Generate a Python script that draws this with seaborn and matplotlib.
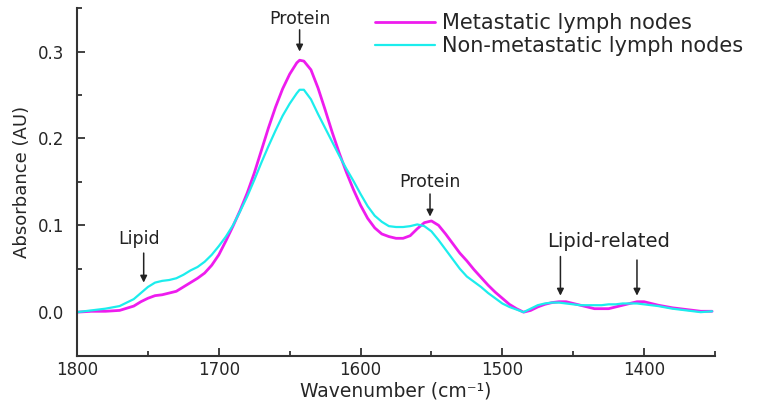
import numpy as np
import pandas as pd
import matplotlib
matplotlib.use("Agg")
import matplotlib.pyplot as plt
from matplotlib.ticker import MultipleLocator, FormatStrFormatter
import seaborn as sns

# wavenumber grid (cm-1)
wavenumber = [1800, 1790, 1780, 1770, 1760, 1755, 1750, 1745, 1740, 1735,
              1730, 1725, 1720, 1715, 1710, 1705, 1700, 1695, 1690, 1685,
              1680, 1675, 1670, 1665, 1660, 1655, 1650, 1645, 1643, 1640,
              1635, 1630, 1625, 1620, 1615, 1610, 1605, 1600, 1595, 1590,
              1585, 1580, 1575, 1570, 1565, 1560, 1555, 1550, 1545, 1540,
              1535, 1530, 1525, 1520, 1515, 1510, 1505, 1500, 1495, 1490,
              1485, 1480, 1475, 1470, 1465, 1460, 1455, 1450, 1445, 1440,
              1435, 1430, 1425, 1420, 1415, 1410, 1405, 1400, 1395, 1390,
              1380, 1370, 1360, 1352]

metastatic = [0.000, 0.001, 0.001, 0.002, 0.007, 0.012, 0.016, 0.019, 0.020, 0.022,
              0.024, 0.029, 0.034, 0.039, 0.045, 0.054, 0.066, 0.082, 0.099, 0.117,
              0.137, 0.160, 0.186, 0.212, 0.236, 0.257, 0.274, 0.287, 0.290, 0.289,
              0.279, 0.258, 0.233, 0.207, 0.183, 0.161, 0.141, 0.123, 0.108, 0.097,
              0.090, 0.087, 0.085, 0.085, 0.088, 0.096, 0.103, 0.105, 0.100, 0.090,
              0.079, 0.068, 0.059, 0.049, 0.040, 0.031, 0.023, 0.016, 0.009, 0.004,
              0.000, 0.002, 0.006, 0.009, 0.011, 0.012, 0.012, 0.010, 0.008, 0.006,
              0.004, 0.004, 0.004, 0.006, 0.008, 0.010, 0.012, 0.012, 0.010, 0.008,
              0.005, 0.003, 0.001, 0.001]

non_metastatic = [0.000, 0.002, 0.004, 0.007, 0.015, 0.022, 0.029, 0.034, 0.036, 0.037,
                  0.039, 0.043, 0.048, 0.052, 0.058, 0.066, 0.076, 0.087, 0.100, 0.116,
                  0.133, 0.152, 0.172, 0.191, 0.209, 0.226, 0.240, 0.252, 0.256, 0.256,
                  0.245, 0.228, 0.212, 0.196, 0.180, 0.165, 0.151, 0.136, 0.122, 0.111,
                  0.104, 0.099, 0.098, 0.098, 0.099, 0.101, 0.099, 0.093, 0.083, 0.072,
                  0.061, 0.050, 0.041, 0.035, 0.029, 0.022, 0.016, 0.010, 0.006, 0.003,
                  0.000, 0.004, 0.008, 0.010, 0.011, 0.011, 0.010, 0.009, 0.008, 0.008,
                  0.008, 0.008, 0.009, 0.009, 0.010, 0.010, 0.010, 0.009, 0.008, 0.007,
                  0.004, 0.002, 0.000, 0.001]

labels = ["Metastatic lymph nodes", "Non-metastatic lymph nodes"]
colors = ["#EE1CEE", "#1CEDED"]

df = pd.DataFrame({
    "wavenumber": wavenumber * 2,
    "absorbance": metastatic + non_metastatic,
    "group": [labels[0]] * len(wavenumber) + [labels[1]] * len(wavenumber),
})

sns.set_style("ticks")
plt.rcParams["font.family"] = ["DejaVu Sans"]

fig, ax = plt.subplots(figsize=(7.63, 4.05), dpi=100)
fig.subplots_adjust(left=0.101, right=0.937, bottom=0.122, top=0.980)

for lab, col, lw in zip(labels, colors, [2.0, 1.6]):
    sns.lineplot(data=df[df["group"] == lab], x="wavenumber", y="absorbance",
                 color=col, linewidth=lw, label=lab, ax=ax, sort=False)

ax.set_xlim(1800, 1350)
ax.set_ylim(-0.05, 0.35)
ax.xaxis.set_major_locator(MultipleLocator(100))
ax.xaxis.set_minor_locator(MultipleLocator(50))
ax.yaxis.set_major_locator(MultipleLocator(0.1))
ax.yaxis.set_minor_locator(MultipleLocator(0.05))
ax.yaxis.set_major_formatter(FormatStrFormatter("%.1f"))
ax.tick_params(which="both", direction="in", color="#333333", width=1.3)
ax.tick_params(which="major", length=6)
ax.tick_params(which="minor", length=3.5)
ax.tick_params(axis="x", which="major", pad=4, labelsize=12)
ax.tick_params(axis="y", which="major", pad=9, labelsize=12)
ax.set_yticks([0.0, 0.1, 0.2, 0.3])

sns.despine(ax=ax)
for side in ["left", "bottom"]:
    ax.spines[side].set_color("#333333")
    ax.spines[side].set_linewidth(1.5)

ax.set_xlabel("Wavenumber (cm\u207b\u00b9)", fontsize=13.5)
ax.xaxis.set_label_coords(0.5, -0.074)
ax.set_ylabel("Absorbance (AU)", fontsize=13, labelpad=5)

# band annotations
arrow = dict(arrowstyle="-|>", color="#222222", lw=1.1, mutation_scale=10,
             shrinkA=0, shrinkB=0)
ax.text(1643, 0.3375, "Protein", fontsize=12.5, ha="center", va="center", color="#222222")
ax.annotate("", xy=(1643, 0.300), xytext=(1643, 0.325), arrowprops=arrow)
ax.text(1756, 0.084, "Lipid", fontsize=12.5, ha="center", va="center", color="#222222")
ax.annotate("", xy=(1753, 0.034), xytext=(1753, 0.068), arrowprops=arrow)
ax.text(1551, 0.150, "Protein", fontsize=12.5, ha="center", va="center", color="#222222")
ax.annotate("", xy=(1551, 0.110), xytext=(1551, 0.136), arrowprops=arrow)
ax.text(1425, 0.081, "Lipid-related", fontsize=14, ha="center", va="center", color="#222222")
ax.annotate("", xy=(1459, 0.019), xytext=(1459, 0.064), arrowprops=arrow)
ax.annotate("", xy=(1405, 0.019), xytext=(1405, 0.060), arrowprops=arrow)

handles, labs = ax.get_legend_handles_labels()
ax.legend(handles, labs, loc="upper left", bbox_to_anchor=(375 / 763, 1 - 13 / 405),
          bbox_transform=fig.transFigure, frameon=False, fontsize=15,
          handlelength=2.9, handletextpad=0.34, labelspacing=0.15,
          borderpad=0, borderaxespad=0)

fig.savefig("out.png", dpi=100)
